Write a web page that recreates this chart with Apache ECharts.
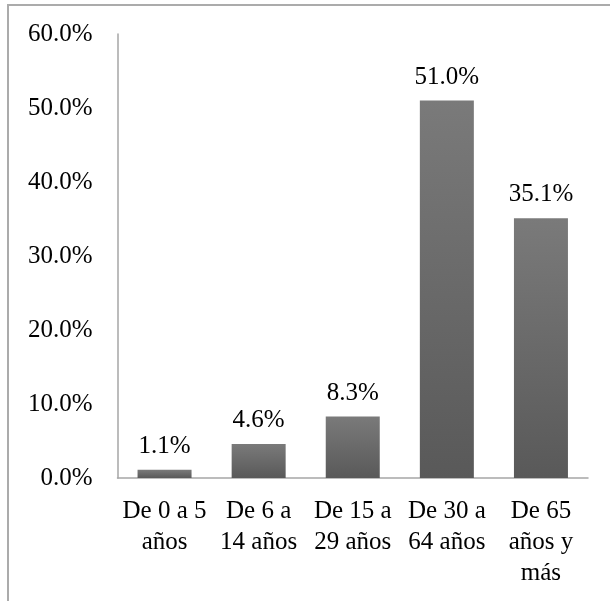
<!DOCTYPE html>
<html>
<head>
<meta charset="utf-8">
<script src="https://cdn.jsdelivr.net/npm/echarts@6/dist/echarts.min.js"></script>
<style>
  html, body { margin: 0; padding: 0; background: #fff; }
  #chart { width: 610px; height: 601px; }
</style>
</head>
<body>
<div id="chart"></div>
<script>
// Age groups and their share of the total (percent)
const categories = ['De 0 a 5\naños', 'De 6 a\n14 años', 'De 15 a\n29 años', 'De 30 a\n64 años', 'De 65\naños y\nmás'];
const shares = [1.1, 4.6, 8.3, 51.0, 35.1];
const yTicks = [0, 10, 20, 30, 40, 50, 60];

const serif = '"Liberation Serif", "DejaVu Serif", serif';
const chart = echarts.init(document.getElementById('chart'), null, { renderer: 'canvas' });

chart.setOption({
  backgroundColor: '#fff',
  animation: false,
  graphic: [{
    type: 'rect',
    shape: { x: 8, y: 5, width: 700, height: 700 },
    style: { fill: 'none', stroke: '#ababab', lineWidth: 2 },
    silent: true
  }],
  grid: { left: 117.5, right: 22, top: 34, bottom: 123, containLabel: false },
  xAxis: {
    type: 'category',
    data: categories,
    axisLine: { show: true, lineStyle: { color: '#a6a6a6', width: 1.5 } },
    axisTick: { show: false },
    axisLabel: {
      interval: 0,
      margin: 18,
      color: '#000',
      fontFamily: serif,
      fontSize: 25,
      lineHeight: 31,
      align: 'center'
    }
  },
  yAxis: {
    type: 'value',
    min: yTicks[0],
    max: yTicks[yTicks.length - 1],
    interval: 10,
    axisLine: { show: true, lineStyle: { color: '#a6a6a6', width: 1.5 } },
    axisTick: { show: false },
    splitLine: { show: false },
    axisLabel: {
      margin: 25,
      color: '#000',
      fontFamily: serif,
      fontSize: 25,
      formatter: v => v.toFixed(1) + '%'
    }
  },
  series: [{
    type: 'bar',
    data: shares,
    barWidth: 54,
    itemStyle: {
      color: new echarts.graphic.LinearGradient(0, 0, 0, 1, [
        { offset: 0, color: '#7a7a7a' },
        { offset: 1, color: '#595959' }
      ])
    },
    label: {
      show: true,
      position: 'top',
      distance: 11,
      color: '#000',
      fontFamily: serif,
      fontSize: 25,
      formatter: p => p.value.toFixed(1) + '%'
    }
  }]
});
</script>
</body>
</html>
